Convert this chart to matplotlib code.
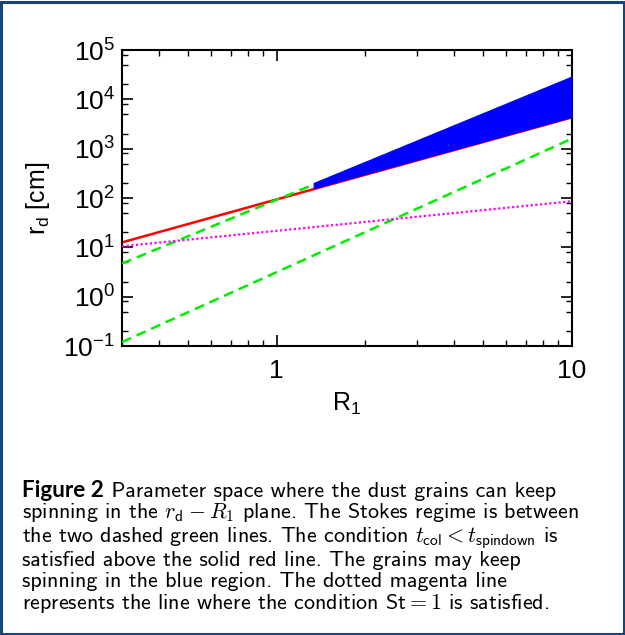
import matplotlib
matplotlib.use("Agg")
import matplotlib.pyplot as plt
from matplotlib.ticker import LogLocator, NullFormatter
from matplotlib.patches import Rectangle

# values (R1 from 0.3 to 10, all power laws -> straight in log-log)
R_ends = [0.3, 10.0]
red_tcol = [12.6, 4300.0]          # t_col = t_spindown
green_upper = [4.7, 27000.0]       # Stokes regime, upper bound
green_lower = [0.12, 1600.0]       # Stokes regime, lower bound
magenta_st1 = [10.5, 86.0]         # St = 1
blue_R = [1.33, 10.0]              # spinning region
blue_low = [152.0, 4300.0]
blue_high = [205.0, 30000.0]

x_major = [1, 10]
x_major_labels = ["1", "10"]

caption_head = "Figure 2"
caption_lines = [
    " Parameter space where the dust grains can keep",
    r"spinning in the $r_\mathsf{d} - R_1$ plane. The Stokes regime is between",
    r"the two dashed green lines. The condition $t_\mathsf{col} < t_\mathsf{spindown}$ is",
    "satisfied above the solid red line. The grains may keep",
    "spinning in the blue region. The dotted magenta line",
    r"represents the line where the condition St$= 1$ is satisfied.",
]

W, H = 625, 635
fig = plt.figure(figsize=(W / 100, H / 100), dpi=100)
ax = fig.add_axes([122 / W, 1 - 346 / H, 450 / W, 296 / H])

ax.plot(R_ends, red_tcol, color="#ff0000", lw=1.8, zorder=2)
ax.plot(R_ends, green_upper, color="#00ee00", lw=1.8, dashes=(4, 2.4), zorder=3)
ax.plot(R_ends, green_lower, color="#00ee00", lw=1.8, dashes=(4, 2.4), zorder=3)
ax.plot(R_ends, magenta_st1, color="#ff00ff", lw=1.6, dashes=(1, 1.1), zorder=3)
ax.fill_between(blue_R, blue_low, blue_high, color="#0000ff", lw=0, zorder=4)

ax.set_xscale("log")
ax.set_yscale("log")
ax.set_xlim(0.3, 10)
ax.set_ylim(0.1, 1e5)

ax.set_xticks(x_major, labels=x_major_labels)
ax.xaxis.set_minor_formatter(NullFormatter())
ax.yaxis.set_major_locator(LogLocator(base=10, numticks=20))
ax.yaxis.set_minor_locator(LogLocator(base=10, subs=[2, 5, 8], numticks=20))
ax.yaxis.set_minor_formatter(NullFormatter())

for s in ax.spines.values():
    s.set_linewidth(1.5)
ax.tick_params(which="both", direction="in", top=True, right=True)
ax.tick_params(which="major", length=8, width=1.2, labelsize=19)
ax.tick_params(which="minor", length=4, width=1.0)
ax.tick_params(axis="x", which="major", pad=9)
ax.tick_params(axis="y", which="major", pad=5)
for lab in ax.get_xticklabels() + ax.get_yticklabels():
    lab.set_family("Liberation Sans")

ax.set_xlabel(r"R$_\mathregular{1}$", fontsize=18, family="Liberation Sans", labelpad=6)
ax.set_ylabel(r"r$_\mathregular{d}$ [cm]", fontsize=18, family="Liberation Sans")
ax.yaxis.set_label_coords(-0.155, 0.5)

# caption, one text per line
fig.canvas.draw()
rend = fig.canvas.get_renderer()
x0 = 22 / W
base = [497, 517.5, 538, 559, 580, 600.5]
size = 12.0
probe = fig.text(x0, 0.5, caption_lines[1], family="cmss10", math_fontfamily="cm", fontsize=size)
wpx = probe.get_window_extent(rend).width
probe.remove()
size = size * 558 / wpx

head = fig.text(x0, 1 - base[0] / H, caption_head, family="Lato", fontweight="bold",
                fontsize=size * 1.02, va="baseline")
hb = head.get_window_extent(rend)
prev = fig.text(hb.x1 / W, 1 - base[0] / H, caption_lines[0], family="cmss10",
                math_fontfamily="cm", fontsize=size, va="baseline")
shift = 0.0
for line, b in zip(caption_lines[1:], base[1:]):
    t = fig.text(x0, 1 - (b + shift) / H, line, family="cmss10", math_fontfamily="cm",
                 fontsize=size, va="baseline")
    gap = t.get_window_extent(rend).y1 - prev.get_window_extent(rend).y0
    if gap > -0.5:
        shift += gap + 0.5
        t.set_y(1 - (b + shift) / H)
    prev = t

fig.patches.append(Rectangle((1.5 / W, 1.5 / H), 1 - 3 / W, 1 - 3 / H, transform=fig.transFigure,
                             fill=False, edgecolor="#17457a", lw=2.2))

fig.savefig("out.png", dpi=100)
